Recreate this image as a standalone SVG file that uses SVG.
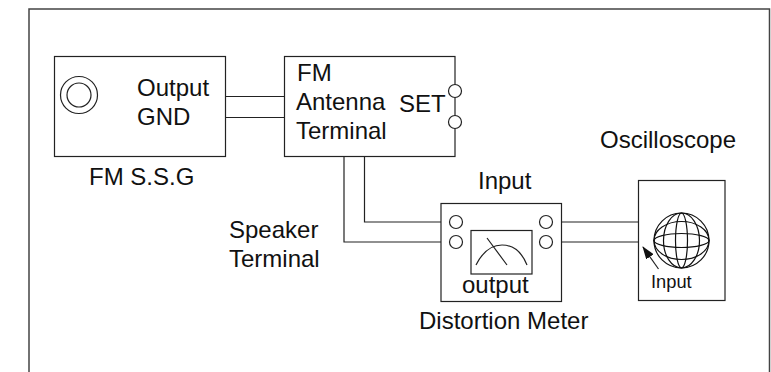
<svg xmlns="http://www.w3.org/2000/svg" width="771" height="372" viewBox="0 0 771 372">
<style>
.s{fill:none;stroke:#222;stroke-width:1.2}
.b{fill:#fff;stroke:#222;stroke-width:1.2}
.t{font-family:"Liberation Sans",Arial,sans-serif;font-size:24px;fill:#111}
.g{fill:none;stroke:#111;stroke-width:1.200}
</style>
<defs><marker id="ah" markerWidth="13" markerHeight="9" refX="12" refY="4.500" orient="auto" markerUnits="userSpaceOnUse"><path d="M0 0L13 4.500L0 9Z" fill="#111"/></marker></defs>
<rect width="771" height="372" fill="#fff"/>
<path id="frame" d="M29 372V9H769.500V372" fill="none" stroke="#444" stroke-width="1.500"/>
<g id="connectors">
<path class="s" d="M225 96.500H284.500M225 117.500H284.500"/>
<path class="s" d="M364.500 156.500V222H450M344 156.500V242H450"/>
<path class="s" d="M552 222H638.500M552 242H638.500"/>
</g>
<g id="fm-ssg">
<rect class="b" x="54.500" y="56.500" width="171" height="100"/>
<circle class="s" cx="79" cy="95" r="18.500"/><circle class="s" cx="79" cy="95" r="12"/>
<text class="t" x="137" y="96">Output</text><text class="t" x="137" y="125">GND</text>
<text class="t" x="89" y="185">FM S.S.G</text>
</g>
<g id="fm-antenna">
<rect class="b" x="284.500" y="56.500" width="170.500" height="100"/>
<text class="t" x="297" y="81">FM</text><text class="t" x="296" y="110">Antenna</text><text class="t" x="296" y="139">Terminal</text>
<text class="t" x="399" y="112">SET</text>
<circle class="b" cx="455" cy="91" r="6.500"/><circle class="b" cx="455" cy="122" r="6.500"/>
</g>
<g id="speaker-label"><text class="t" x="229" y="238">Speaker</text><text class="t" x="229" y="267">Terminal</text></g>
<g id="distortion-meter">
<rect class="b" x="441" y="203.500" width="120.500" height="98"/>
<circle class="b" cx="456" cy="222" r="6.500"/><circle class="b" cx="456" cy="242" r="6.500"/>
<circle class="b" cx="546" cy="222" r="6.500"/><circle class="b" cx="546" cy="242" r="6.500"/>
<rect class="s" x="471" y="230.500" width="61" height="43.500"/>
<path class="s" d="M476 265Q486 245 502 245Q519 245 527 265M487 238L507 265"/>
<text class="t" x="478" y="189">Input</text>
<text class="t" x="462" y="293">output</text>
<text class="t" x="419" y="329">Distortion Meter</text>
</g>
<g id="oscilloscope">
<rect class="b" x="638.500" y="180.500" width="86.500" height="120"/>
<circle class="g" cx="681.500" cy="240.500" r="27.500"/>
<ellipse class="g" cx="681.500" cy="240.500" rx="18" ry="27.500"/><ellipse class="g" cx="681.500" cy="240.500" rx="6" ry="27.500"/>
<ellipse class="g" cx="681.500" cy="240.500" rx="27.500" ry="19"/><ellipse class="g" cx="681.500" cy="240.500" rx="27.500" ry="7"/>
<path class="s" d="M658.500 269L643 247" marker-end="url(#ah)"/>
<text class="t" x="651" y="288" style="font-size:18.300px">Input</text>
<text class="t" x="600" y="148">Oscilloscope</text>
</g>
</svg>
